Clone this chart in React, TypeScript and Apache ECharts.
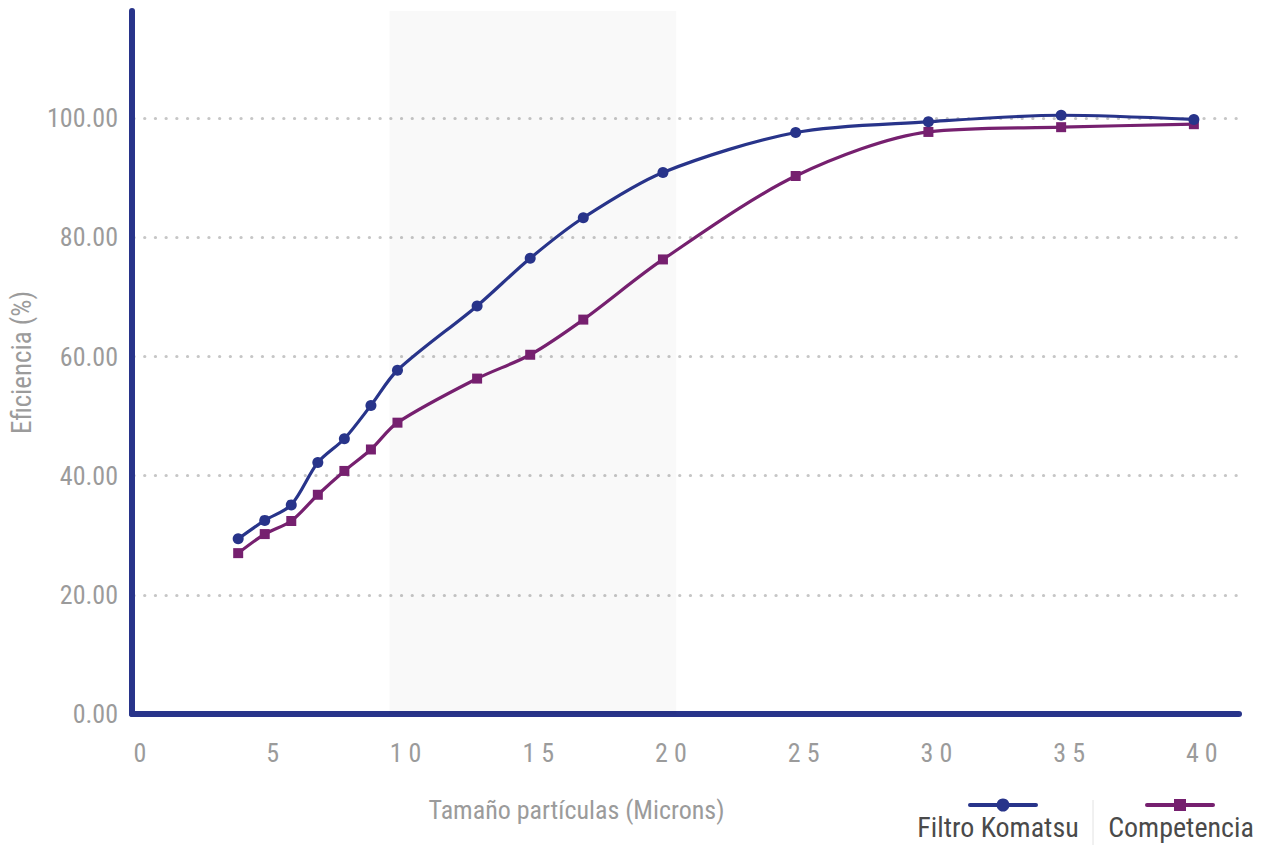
import { useEffect, useRef } from "react";
import * as echarts from "echarts";

// Particle size (microns) at which each efficiency was measured
const particleSize = [4, 5, 6, 7, 8, 9, 10, 13, 15, 17, 20, 25, 30, 35, 40];
// Filtration efficiency (%) for each filter
const komatsuEff = [29.4, 32.5, 35.1, 42.2, 46.2, 51.8, 57.7, 68.5, 76.5, 83.3, 90.9, 97.6, 99.4, 100.5, 99.8];
const competenciaEff = [27.0, 30.2, 32.4, 36.8, 40.8, 44.4, 48.9, 56.3, 60.3, 66.2, 76.3, 90.3, 97.7, 98.5, 99.0];

const seriesNames = ["Filtro Komatsu", "Competencia"];
const seriesColors = ["#28348a", "#76206f"];
const seriesSymbols = ["circle", "rect"];

// Highlighted particle-size band
const highlightBand = [9.7, 20.5];

const xTickStep = 5;
const yTickStep = 20;

const FONT = "'Roboto Condensed', 'Liberation Sans Narrow', 'DejaVu Sans Condensed', Roboto, sans-serif";
const LABEL_GRAY = "#9b9b9b";

export default function App() {
  const ref = useRef<HTMLDivElement>(null);

  useEffect(() => {
    if (!ref.current) return;
    const chart = echarts.init(ref.current, null, { renderer: "svg" });

    const pairs = (ys: number[]) => particleSize.map((x, i) => [x, ys[i]]);

    // Legend drawn as icon-over-label blocks in the bottom-right corner
    const legendBlocks = seriesNames.map((name, i) => {
      const cx = i === 0 ? 1003 : 1180;
      const textDx = i === 0 ? -5 : 1;
      const marker =
        seriesSymbols[i] === "circle"
          ? { type: "circle", shape: { cx: 0, cy: 0, r: 6.5 }, style: { fill: seriesColors[i] } }
          : { type: "rect", shape: { x: -6, y: -6, width: 12, height: 12 }, style: { fill: seriesColors[i] } };
      return {
        type: "group",
        x: cx,
        y: 805,
        children: [
          {
            type: "line",
            shape: { x1: -33, y1: 0, x2: 33, y2: 0 },
            style: { stroke: seriesColors[i], lineWidth: 4, lineCap: "round" },
          },
          marker,
          {
            type: "text",
            x: textDx,
            y: 22,
            style: {
              text: name,
              fill: "#4a4a4a",
              fontSize: 28,
              fontFamily: FONT,
              align: "center",
              verticalAlign: "middle",
            },
          },
        ],
      };
    });

    chart.setOption({
      animation: false,
      textStyle: { fontFamily: FONT },
      grid: { left: 131, right: 26, top: 11, bottom: 131, containLabel: false },
      xAxis: {
        type: "value",
        min: 0,
        max: 41.7,
        interval: xTickStep,
        name: "Tamaño partículas (Microns)",
        nameLocation: "middle",
        nameGap: 83,
        nameTextStyle: { color: LABEL_GRAY, fontSize: 26, fontFamily: FONT, padding: [0, 218, 0, 0] },
        axisLine: { show: true, lineStyle: { color: seriesColors[0], width: 6, cap: "round" } },
        axisTick: { show: false },
        splitLine: { show: false },
        axisLabel: {
          color: LABEL_GRAY,
          fontSize: 26,
          fontFamily: FONT,
          margin: 26,
          padding: [0, 0, 0, 16],
          showMaxLabel: false,
          formatter: (v: number) => (v % xTickStep === 0 ? String(v).split("").join(" ") : ""),
        },
      },
      yAxis: {
        type: "value",
        min: 0,
        max: 118,
        interval: yTickStep,
        name: "Eficiencia (%)",
        nameLocation: "middle",
        nameGap: 97,
        nameTextStyle: { color: LABEL_GRAY, fontSize: 27, fontFamily: FONT },
        axisLine: { show: true, lineStyle: { color: seriesColors[0], width: 6, cap: "round" } },
        axisTick: { show: false },
        axisLabel: {
          color: LABEL_GRAY,
          fontSize: 26,
          fontFamily: FONT,
          margin: 14,
          showMaxLabel: false,
          formatter: (v: number) => (v % yTickStep === 0 ? v.toFixed(2) : ""),
        },
        splitLine: {
          show: true,
          showMinLine: false,
          showMaxLine: false,
          lineStyle: { color: "#c6c6c6", width: 3.2, type: [0.1, 10.6], dashOffset: -2, cap: "round" },
        },
      },
      series: [
        {
          name: seriesNames[0],
          type: "line",
          data: pairs(komatsuEff),
          smooth: 0.3,
          symbol: seriesSymbols[0],
          symbolSize: 11,
          showAllSymbol: true,
          lineStyle: { color: seriesColors[0], width: 3.2 },
          itemStyle: { color: seriesColors[0] },
          markArea: {
            silent: true,
            itemStyle: { color: "rgba(0,0,0,0.022)" },
            data: [[{ xAxis: highlightBand[0] }, { xAxis: highlightBand[1] }]],
          },
          z: 3,
        },
        {
          name: seriesNames[1],
          type: "line",
          data: pairs(competenciaEff),
          smooth: 0.3,
          symbol: seriesSymbols[1],
          symbolSize: 10,
          showAllSymbol: true,
          lineStyle: { color: seriesColors[1], width: 3.2 },
          itemStyle: { color: seriesColors[1] },
          z: 2,
        },
      ],
      graphic: [
        ...legendBlocks,
        {
          type: "line",
          shape: { x1: 1093, y1: 800, x2: 1093, y2: 845 },
          style: { stroke: "#e2e2e2", lineWidth: 1 },
        },
      ],
    });

    return () => chart.dispose();
  }, []);

  return <div ref={ref} style={{ position: "fixed", left: 0, top: 0, width: 1265, height: 845, background: "#fff" }} />;
}
